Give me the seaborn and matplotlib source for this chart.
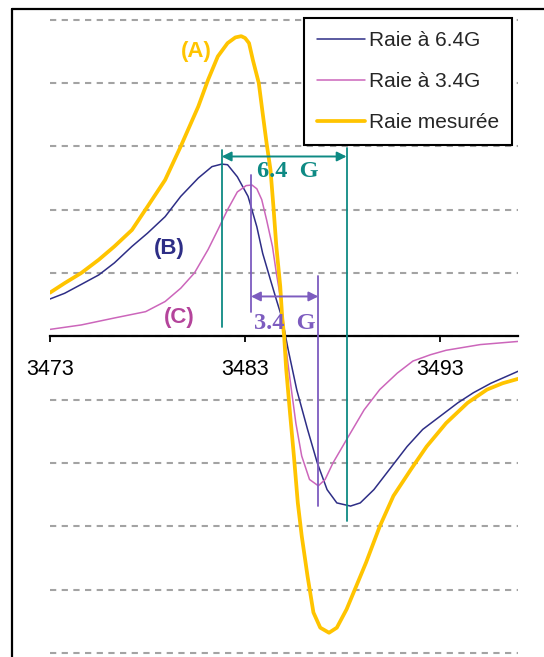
import matplotlib.pyplot as plt
from matplotlib.lines import Line2D
import seaborn as sns


# Raie à 6.4G (B)
blue_x = [3473.0, 3473.75, 3474.6, 3475.5, 3476.3, 3477.2, 3478.0, 3478.9, 3479.7, 3480.6,
          3481.3, 3481.8, 3482.1, 3482.6, 3483.15, 3483.6, 3483.9, 3484.3, 3484.6, 3484.9,
          3485.2, 3485.65, 3486.2, 3486.7, 3487.2, 3487.7, 3488.4, 3488.9, 3489.6, 3490.4,
          3491.3, 3492.1, 3493.0, 3493.9, 3494.7, 3495.6, 3497.0]
blue_y = [0.59, 0.68, 0.82, 0.97, 1.16, 1.42, 1.63, 1.89, 2.21, 2.50,
          2.68, 2.72, 2.71, 2.52, 2.21, 1.73, 1.31, 0.89, 0.58, 0.28,
          -0.20, -0.85, -1.47, -2.00, -2.42, -2.63, -2.68, -2.63, -2.42, -2.10,
          -1.74, -1.47, -1.26, -1.05, -0.89, -0.74, -0.55]

# Raie à 3.4G (C)
pink_x = [3473.0, 3474.6, 3476.3, 3477.9, 3478.9, 3479.7, 3480.4, 3481.1, 3481.6, 3482.1,
          3482.6, 3483.05, 3483.35, 3483.6, 3483.85, 3484.1, 3484.4, 3484.6, 3484.8, 3484.95,
          3485.1, 3485.3, 3485.6, 3485.9, 3486.3, 3486.75, 3487.1, 3487.5, 3488.2, 3489.1,
          3489.9, 3490.8, 3491.6, 3492.5, 3493.3, 3495.05, 3497.0]
pink_y = [0.11, 0.18, 0.29, 0.39, 0.55, 0.76, 1.00, 1.37, 1.68, 2.00,
          2.28, 2.38, 2.39, 2.33, 2.16, 1.84, 1.42, 1.00, 0.63, 0.26,
          -0.20, -0.68, -1.37, -1.89, -2.26, -2.36, -2.26, -2.00, -1.63, -1.16,
          -0.84, -0.58, -0.39, -0.29, -0.22, -0.13, -0.08]

# Raie mesurée (A)
yel_x = [3473.0, 3473.75, 3474.6, 3475.5, 3476.3, 3477.2, 3478.0, 3478.9, 3479.7, 3480.6,
         3481.1, 3481.6, 3482.1, 3482.5, 3482.8, 3483.0, 3483.2, 3483.4, 3483.7, 3483.9,
         3484.1, 3484.3, 3484.45, 3484.6, 3484.8, 3484.9, 3485.0, 3485.1, 3485.3, 3485.5,
         3485.7, 3485.9, 3486.2, 3486.5, 3486.85, 3487.3, 3487.7, 3488.2, 3488.7, 3489.2,
         3489.9, 3490.6, 3491.5, 3492.3, 3493.3, 3494.4, 3495.4, 3496.2, 3497.0]
yel_y = [0.69, 0.84, 1.00, 1.21, 1.42, 1.68, 2.05, 2.47, 3.00, 3.63,
         4.05, 4.42, 4.63, 4.72, 4.74, 4.71, 4.63, 4.36, 4.00, 3.52,
         3.05, 2.63, 2.05, 1.42, 0.79, 0.30, 0.00, -0.50, -1.21, -1.89,
         -2.63, -3.15, -3.79, -4.36, -4.60, -4.68, -4.60, -4.31, -3.94, -3.57,
         -3.00, -2.52, -2.10, -1.74, -1.37, -1.05, -0.84, -0.74, -0.67]

x_ticks = [3473, 3483, 3493]
labels = ['Raie à 6.4G', 'Raie à 3.4G', 'Raie mesurée']

# peak-to-peak markers (x left, x right)
b_pp = [3481.8, 3488.2]
c_pp = [3483.3, 3486.75]

navy = '#2e2e86'
pink = '#cc66bb'
gold = '#ffc400'
teal = '#0e8a84'
violet = '#7d5cbf'

sns.set_style('white')
plt.rcParams['font.family'] = ['Liberation Sans', 'DejaVu Sans']

fig = plt.figure(figsize=(5.44, 6.57), dpi=100)
ax = fig.add_axes([50 / 544, 0.0003, 468.3 / 544, 0.9755])

sns.lineplot(x=blue_x, y=blue_y, color=navy, lw=1.1, label=labels[0], ax=ax, zorder=3)
sns.lineplot(x=pink_x, y=pink_y, color=pink, lw=1.1, label=labels[1], ax=ax, zorder=3)
sns.lineplot(x=yel_x, y=yel_y, color=gold, lw=2.7, label=labels[2], ax=ax, zorder=4)

ax.set_xlim(3473, 3497)
ax.set_ylim(-5.06, 5.06)
ax.set_yticks(range(-5, 6))
ax.set_yticklabels([])
ax.tick_params(axis='y', length=0)
ax.grid(axis='y', color='#a3a3a3', lw=1.5, linestyle=(0, (3, 2.6)))
ax.set_xticks(x_ticks)
ax.set_xlabel('')
ax.set_ylabel('')
for s in ['left', 'right', 'top']:
    ax.spines[s].set_visible(False)
ax.spines['bottom'].set_position(('data', 0))
ax.spines['bottom'].set_color('black')
ax.spines['bottom'].set_linewidth(1.6)
ax.spines['bottom'].set_zorder(2.5)
ax.tick_params(axis='x', direction='out', length=4.5, width=1.3, pad=12,
               labelsize=15.5, colors='black', bottom=True)

# 6.4 G marker
ax.plot([b_pp[0]] * 2, [2.94, 0.14], color=teal, lw=1.3, zorder=5)
ax.plot([b_pp[1]] * 2, [2.98, -2.92], color=teal, lw=1.3, zorder=5)
ax.annotate('', xy=(b_pp[1], 2.84), xytext=(b_pp[0], 2.84),
            arrowprops=dict(arrowstyle='<|-|>', color=teal, lw=1.4,
                            shrinkA=0, shrinkB=0, mutation_scale=14), zorder=5)
ax.text(3485.2, 2.6, '6.4  G', color=teal, fontsize=17.5, fontweight='bold',
        family=['Liberation Serif', 'DejaVu Serif'], ha='center', va='center', zorder=6)

# 3.4 G marker
ax.plot([c_pp[0]] * 2, [2.55, 0.39], color=violet, lw=1.3, zorder=5)
ax.plot([c_pp[1]] * 2, [0.95, -2.68], color=violet, lw=1.3, zorder=5)
ax.annotate('', xy=(c_pp[1], 0.63), xytext=(c_pp[0], 0.63),
            arrowprops=dict(arrowstyle='<|-|>', color=violet, lw=1.4,
                            shrinkA=0, shrinkB=0, mutation_scale=14), zorder=5)
ax.text(3485.05, 0.2, '3.4  G', color=violet, fontsize=17.5, fontweight='bold',
        family=['Liberation Serif', 'DejaVu Serif'], ha='center', va='center', zorder=6)

# curve tags
ax.text(3480.5, 4.5, '(A)', color=gold, fontsize=16, fontweight='bold', ha='center', va='center')
ax.text(3479.1, 1.39, '(B)', color=navy, fontsize=16, fontweight='bold', ha='center', va='center')
ax.text(3479.6, 0.30, '(C)', color='#b4449b', fontsize=16, fontweight='bold', ha='center', va='center')

leg = ax.legend(loc='upper left', bbox_to_anchor=(304 / 544, 1 - 18.3 / 657),
                bbox_transform=fig.transFigure, frameon=True, fancybox=False,
                edgecolor='black', framealpha=1, borderaxespad=0, fontsize=15,
                handlelength=2.3, handletextpad=0.2, labelspacing=1.05, borderpad=0.62)
leg.get_frame().set_linewidth(1.5)
leg.set_zorder(10)

# outer chart border (cropped on right / bottom)
fig.add_artist(Line2D([12 / 544, 12 / 544], [0, 1 - 9 / 657], color='black', lw=1.6,
                      transform=fig.transFigure))
fig.add_artist(Line2D([12 / 544, 1], [1 - 9 / 657, 1 - 9 / 657], color='black', lw=1.6,
                      transform=fig.transFigure))

fig.savefig('out.png', dpi=100)
